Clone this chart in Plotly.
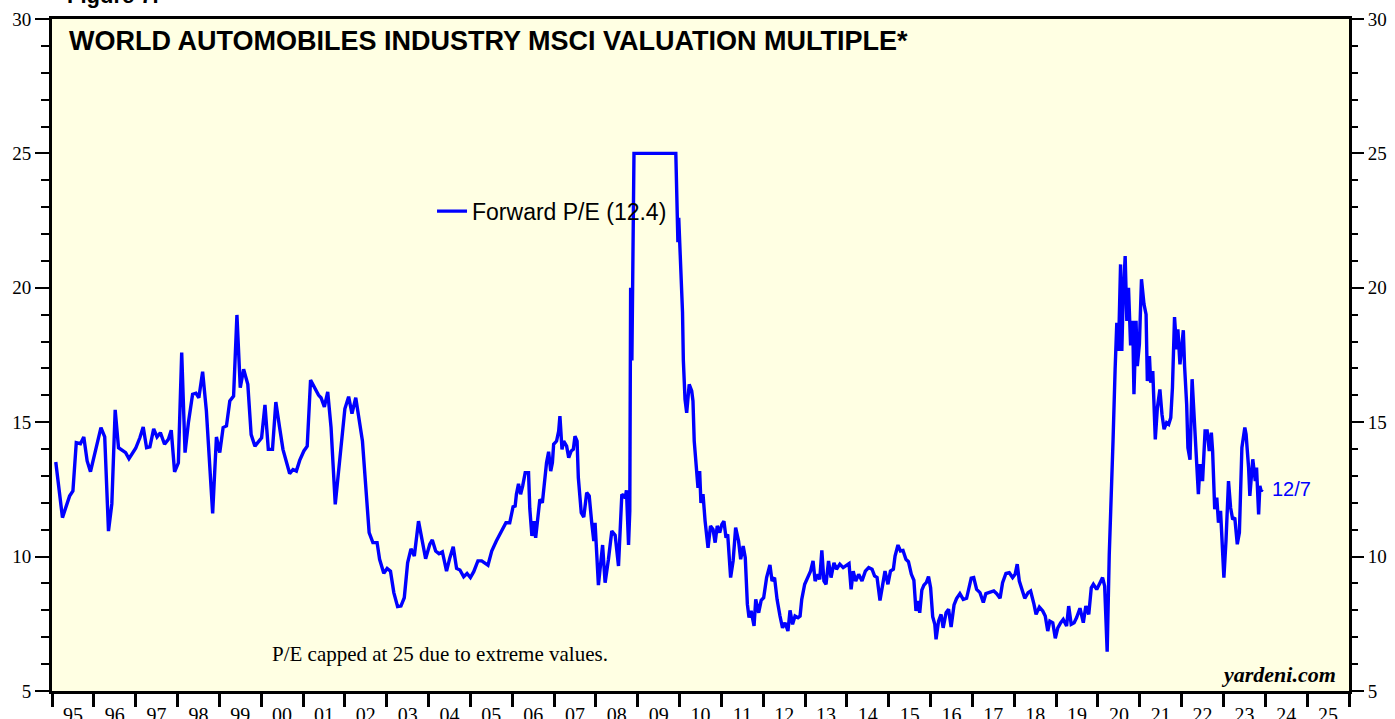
import plotly.graph_objects as go

# Decimal-year dates and forward P/E values
years = [
    1995.09, 1995.25, 1995.42, 1995.50, 1995.58, 1995.68, 1995.76, 1995.84, 1995.92,
    1996.06, 1996.17, 1996.26, 1996.35, 1996.43, 1996.51, 1996.59, 1996.76, 1996.84,
    1997.00, 1997.10, 1997.18, 1997.26, 1997.34, 1997.43, 1997.51, 1997.59, 1997.69,
    1997.78, 1997.85, 1997.93, 1998.02, 1998.10, 1998.18, 1998.26, 1998.36, 1998.44,
    1998.51, 1998.60, 1998.69, 1998.84, 1998.93, 1999.01, 1999.09, 1999.17, 1999.25,
    1999.34, 1999.42, 1999.50, 1999.58, 1999.68, 1999.76, 1999.85, 2000.01, 2000.09,
    2000.17, 2000.27, 2000.35, 2000.44, 2000.52, 2000.68, 2000.76, 2000.84, 2000.92,
    2001.02, 2001.10, 2001.18, 2001.27, 2001.37, 2001.43, 2001.51, 2001.59, 2001.67,
    2001.77, 2002.00, 2002.09, 2002.17, 2002.26, 2002.42, 2002.58, 2002.67, 2002.77,
    2002.83, 2002.93, 2003.01, 2003.09, 2003.17, 2003.26, 2003.34, 2003.42, 2003.50,
    2003.58, 2003.66, 2003.76, 2003.84, 2003.93, 2004.03, 2004.09, 2004.17, 2004.25,
    2004.33, 2004.43, 2004.51, 2004.59, 2004.67, 2004.75, 2004.84, 2004.92, 2005.00,
    2005.08, 2005.18, 2005.27, 2005.42, 2005.51, 2005.62, 2005.75, 2005.85, 2005.94,
    2006.02, 2006.07, 2006.10, 2006.15, 2006.20, 2006.25, 2006.31, 2006.39, 2006.42,
    2006.47, 2006.52, 2006.56, 2006.61, 2006.66, 2006.72, 2006.77, 2006.82, 2006.87,
    2006.92, 2006.96, 2006.99, 2007.06, 2007.11, 2007.14, 2007.19, 2007.23, 2007.30,
    2007.35, 2007.41, 2007.46, 2007.50, 2007.55, 2007.58, 2007.65, 2007.71, 2007.78,
    2007.84, 2007.90, 2007.95, 2007.98, 2008.06, 2008.16, 2008.22, 2008.30, 2008.38,
    2008.46, 2008.54, 2008.62, 2008.70, 2008.73, 2008.78, 2008.81, 2008.83, 2008.86,
    2008.91, 2009.91, 2009.93, 2009.96, 2009.98, 2010.01, 2010.03, 2010.07, 2010.09,
    2010.13, 2010.17, 2010.23, 2010.29, 2010.32, 2010.35, 2010.40, 2010.44, 2010.48,
    2010.51, 2010.56, 2010.61, 2010.68, 2010.74, 2010.80, 2010.85, 2010.90, 2010.96,
    2011.01, 2011.06, 2011.11, 2011.15, 2011.22, 2011.28, 2011.34, 2011.41, 2011.46,
    2011.52, 2011.57, 2011.62, 2011.66, 2011.71, 2011.78, 2011.82, 2011.89, 2011.95,
    2012.01, 2012.08, 2012.16, 2012.21, 2012.27, 2012.33, 2012.40, 2012.46, 2012.52,
    2012.59, 2012.64, 2012.70, 2012.76, 2012.83, 2012.88, 2012.92, 2012.99, 2013.07,
    2013.13, 2013.19, 2013.24, 2013.31, 2013.35, 2013.40, 2013.45, 2013.50, 2013.56,
    2013.62, 2013.69, 2013.75, 2013.83, 2013.91, 2013.99, 2014.05, 2014.10, 2014.15,
    2014.21, 2014.28, 2014.36, 2014.44, 2014.52, 2014.60, 2014.66, 2014.72, 2014.79,
    2014.85, 2014.91, 2014.98, 2015.04, 2015.11, 2015.15, 2015.22, 2015.28, 2015.34,
    2015.41, 2015.47, 2015.54, 2015.60, 2015.65, 2015.70, 2015.74, 2015.79, 2015.84,
    2015.90, 2015.95, 2016.00, 2016.05, 2016.10, 2016.13, 2016.19, 2016.25, 2016.30,
    2016.37, 2016.43, 2016.49, 2016.56, 2016.62, 2016.70, 2016.78, 2016.86, 2016.91,
    2016.97, 2017.03, 2017.10, 2017.18, 2017.26, 2017.32, 2017.42, 2017.51, 2017.58,
    2017.66, 2017.72, 2017.80, 2017.88, 2017.96, 2018.02, 2018.07, 2018.12, 2018.17,
    2018.25, 2018.33, 2018.39, 2018.47, 2018.52, 2018.60, 2018.68, 2018.74, 2018.80,
    2018.85, 2018.92, 2018.98, 2019.04, 2019.11, 2019.17, 2019.25, 2019.30, 2019.36,
    2019.43, 2019.49, 2019.57, 2019.65, 2019.71, 2019.78, 2019.84, 2019.89, 2019.97,
    2020.05, 2020.11, 2020.16, 2020.22, 2020.27, 2020.30, 2020.36, 2020.41, 2020.45,
    2020.49, 2020.54, 2020.57, 2020.60, 2020.65, 2020.69, 2020.73, 2020.78, 2020.83,
    2020.86, 2020.91, 2020.94, 2020.99, 2021.04, 2021.10, 2021.15, 2021.18, 2021.23,
    2021.26, 2021.31, 2021.37, 2021.42, 2021.48, 2021.53, 2021.58, 2021.64, 2021.69,
    2021.74, 2021.78, 2021.83, 2021.88, 2021.91, 2021.96, 2022.01, 2022.04, 2022.07,
    2022.12, 2022.15, 2022.20, 2022.25, 2022.29, 2022.34, 2022.40, 2022.44, 2022.50,
    2022.56, 2022.61, 2022.66, 2022.71, 2022.74, 2022.79, 2022.84, 2022.88, 2022.93,
    2022.98, 2023.01, 2023.06, 2023.12, 2023.17, 2023.22, 2023.27, 2023.33, 2023.38,
    2023.44, 2023.51, 2023.54, 2023.60, 2023.63, 2023.70, 2023.76, 2023.79, 2023.84,
    2023.87, 2023.90, 2023.93,
]

forward_pe = [
    13.52, 11.45, 12.25, 12.44, 14.24, 14.20, 14.45, 13.56, 13.16,
    14.05, 14.80, 14.45, 10.95, 11.96, 15.46, 14.05, 13.87, 13.64,
    14.03, 14.42, 14.82, 14.05, 14.08, 14.75, 14.45, 14.61, 14.18,
    14.36, 14.70, 13.15, 13.49, 17.59, 13.87, 14.98, 16.04, 16.08,
    15.91, 16.88, 15.42, 11.61, 14.45, 13.87, 14.80, 14.86, 15.79,
    15.97, 18.99, 16.28, 16.97, 16.41, 14.54, 14.11, 14.42, 15.64,
    13.99, 13.99, 15.75, 14.80, 13.99, 13.09, 13.24, 13.18, 13.58,
    13.93, 14.11, 16.57, 16.28, 16.01, 15.91, 15.57, 16.13, 14.80,
    11.94, 15.50, 15.95, 15.32, 15.91, 14.30, 10.89, 10.52, 10.52,
    9.90, 9.38, 9.56, 9.46, 8.66, 8.14, 8.16, 8.47, 9.77,
    10.29, 10.02, 11.32, 10.58, 9.92, 10.46, 10.62, 10.21, 10.11,
    10.18, 9.46, 9.96, 10.37, 9.56, 9.50, 9.25, 9.37, 9.22,
    9.44, 9.84, 9.84, 9.68, 10.21, 10.58, 10.93, 11.26, 11.26,
    11.85, 11.88, 12.32, 12.71, 12.32, 12.63, 13.12, 13.12, 11.78,
    10.77, 11.32, 10.70, 11.45, 12.13, 12.00, 12.81, 13.49, 13.90,
    13.18, 13.49, 14.18, 14.30, 14.67, 15.23, 13.99, 14.30, 14.11,
    13.68, 13.93, 13.99, 14.48, 14.30, 12.94, 11.63, 11.47, 12.38,
    12.26, 11.26, 10.58, 11.26, 8.94, 10.43, 9.03, 9.90, 10.95,
    10.80, 9.65, 12.32, 12.19, 12.47, 10.43, 11.70, 20.00, 17.30,
    25.00, 25.00, 22.90, 21.70, 22.60, 21.50, 21.20, 19.10, 17.30,
    15.85, 15.35, 16.41, 16.16, 15.79, 14.30, 13.18, 12.56, 13.18,
    12.00, 12.32, 11.32, 10.33, 11.14, 11.01, 10.52, 11.14, 10.89,
    11.20, 11.32, 10.70, 10.83, 9.22, 9.84, 11.08, 10.58, 9.90,
    10.39, 9.96, 8.23, 7.73, 7.98, 7.42, 8.41, 7.91, 8.37,
    8.47, 9.22, 9.69, 9.09, 9.22, 8.41, 7.79, 7.35, 7.54,
    7.23, 8.00, 7.48, 7.79, 7.73, 7.79, 8.41, 8.97, 9.24,
    9.46, 9.84, 9.09, 9.34, 9.15, 10.23, 9.09, 8.97, 9.84,
    9.22, 9.77, 9.53, 9.72, 9.59, 9.69, 9.74, 8.78, 9.46,
    9.09, 9.34, 9.09, 9.46, 9.59, 9.53, 9.28, 9.22, 8.37,
    8.84, 9.46, 8.97, 9.46, 9.53, 10.02, 10.43, 10.21, 10.23,
    9.90, 9.81, 9.34, 9.12, 7.98, 8.35, 7.91, 8.75, 8.94,
    9.04, 9.26, 8.84, 7.76, 7.48, 6.92, 7.60, 7.85, 7.35,
    7.91, 8.04, 7.38, 8.20, 8.44, 8.62, 8.41, 8.45, 8.78,
    9.20, 9.22, 8.78, 8.66, 8.29, 8.62, 8.66, 8.72, 8.62,
    8.45, 9.03, 9.37, 9.40, 9.22, 9.34, 9.72, 9.09, 8.84,
    8.45, 8.66, 8.72, 8.23, 7.85, 8.12, 7.98, 7.79, 7.23,
    7.60, 7.54, 6.96, 7.35, 7.54, 7.66, 7.42, 8.16, 7.48,
    7.54, 7.73, 8.08, 7.54, 8.16, 7.85, 8.84, 8.97, 8.78,
    9.03, 9.22, 8.90, 6.46, 10.08, 11.32, 14.30, 16.97, 18.70,
    17.65, 20.87, 17.65, 19.51, 21.18, 18.77, 20.00, 17.86, 18.77,
    16.04, 18.77, 17.09, 17.90, 20.32, 19.39, 19.01, 16.53, 17.46,
    16.47, 16.90, 14.36, 15.54, 16.22, 15.29, 14.74, 14.98, 14.92,
    15.17, 16.28, 18.91, 17.71, 18.45, 17.15, 17.83, 18.42, 17.09,
    15.66, 14.05, 13.60, 16.60, 15.30, 13.93, 12.32, 13.44, 12.81,
    14.67, 14.67, 13.93, 14.61, 13.93, 11.76, 12.19, 11.26, 11.70,
    10.08, 9.22, 10.58, 12.81, 11.82, 11.38, 11.45, 10.46, 10.89,
    14.05, 14.80, 14.55, 13.31, 12.26, 13.62, 12.81, 13.31, 11.57,
    12.63, 12.44, 12.50,
]

year_ticks = [1995.5 + i for i in range(31)]
year_labels = ["%02d" % ((95 + i) % 100) for i in range(31)]
y_ticks = [5, 10, 15, 20, 25, 30]

series_name = "Forward P/E (12.4)"
last_label = "12/7"

BLUE = "#0000FF"
BG = "#FFFFE3"
serif = "Liberation Serif"
sans = "Liberation Sans"

fig = go.Figure()
fig.add_trace(go.Scatter(
    x=years, y=forward_pe, mode="lines", name=series_name,
    line=dict(color=BLUE, width=3.4),
))
# invisible trace to activate the right-hand axis
fig.add_trace(go.Scatter(
    x=[years[0]], y=[forward_pe[0]], yaxis="y2", mode="markers",
    marker=dict(opacity=0), showlegend=False, hoverinfo="skip",
))

yaxis_common = dict(
    range=[5, 30], tickvals=y_ticks, ticks="outside", ticklen=14, tickwidth=1.5,
    tickcolor="black", showgrid=False, zeroline=False, automargin=False,
    tickfont=dict(family=serif, size=19, color="black"),
    minor=dict(dtick=1, tick0=5, ticks="outside", ticklen=8, tickwidth=1.5,
               tickcolor="black", showgrid=False),
    fixedrange=True,
)

fig.update_layout(
    width=1395, height=719,
    margin=dict(l=52, r=46, t=19, b=28, autoexpand=False),
    paper_bgcolor="white", plot_bgcolor=BG,
    showlegend=True,
    legend=dict(x=0.293, y=0.714, xanchor="left", yanchor="middle",
                bgcolor="rgba(0,0,0,0)",
                font=dict(family=sans, size=23, color="black")),
    xaxis=dict(
        range=[1995, 2026], tickvals=year_ticks, ticktext=year_labels,
        ticks="outside", ticklen=4, tickcolor="rgba(0,0,0,0)",
        tickfont=dict(family=serif, size=20, color="black"),
        showline=True, linewidth=3, linecolor="black", mirror=True,
        showgrid=False, zeroline=False, automargin=False,
        minor=dict(tickvals=[1995 + i for i in range(32)], ticks="outside",
                   ticklen=13, tickwidth=3, tickcolor="black", showgrid=False),
        fixedrange=True,
    ),
    yaxis=dict(**yaxis_common, side="left", showline=True, linewidth=3,
               linecolor="black", mirror=True),
    yaxis2=dict(**yaxis_common, side="right", overlaying="y", showline=False),
    annotations=[
        dict(text="<b>WORLD AUTOMOBILES INDUSTRY MSCI VALUATION MULTIPLE*</b>",
             xref="paper", yref="paper", x=0.0115, y=0.993, xanchor="left",
             yanchor="top", showarrow=False,
             font=dict(family=sans, size=27, color="black")),
        dict(text="<b>Figure 7.</b>", xref="paper", yref="paper", x=0.01, y=1,
             xanchor="left", yanchor="bottom", yshift=9, showarrow=False,
             font=dict(family=sans, size=22, color="black")),
        dict(text=last_label, x=years[-1], y=forward_pe[-1], xanchor="left",
             yanchor="middle", xshift=8, showarrow=False,
             font=dict(family=sans, size=20, color=BLUE)),
        dict(text="P/E capped at 25 due to extreme values.", xref="paper",
             yref="paper", x=0.168, y=0.055, xanchor="left", yanchor="middle",
             showarrow=False, font=dict(family=serif, size=21, color="black")),
        dict(text="<b><i>yardeni.com</i></b>", xref="paper", yref="paper",
             x=0.9915, y=0.003, xanchor="right", yanchor="bottom",
             showarrow=False, font=dict(family=serif, size=22, color="black")),
    ],
)

fig.write_html(
    "out.html",
    config={"displayModeBar": False},
    post_script="document.body.style.margin='0';document.body.style.overflow='hidden';",
)
